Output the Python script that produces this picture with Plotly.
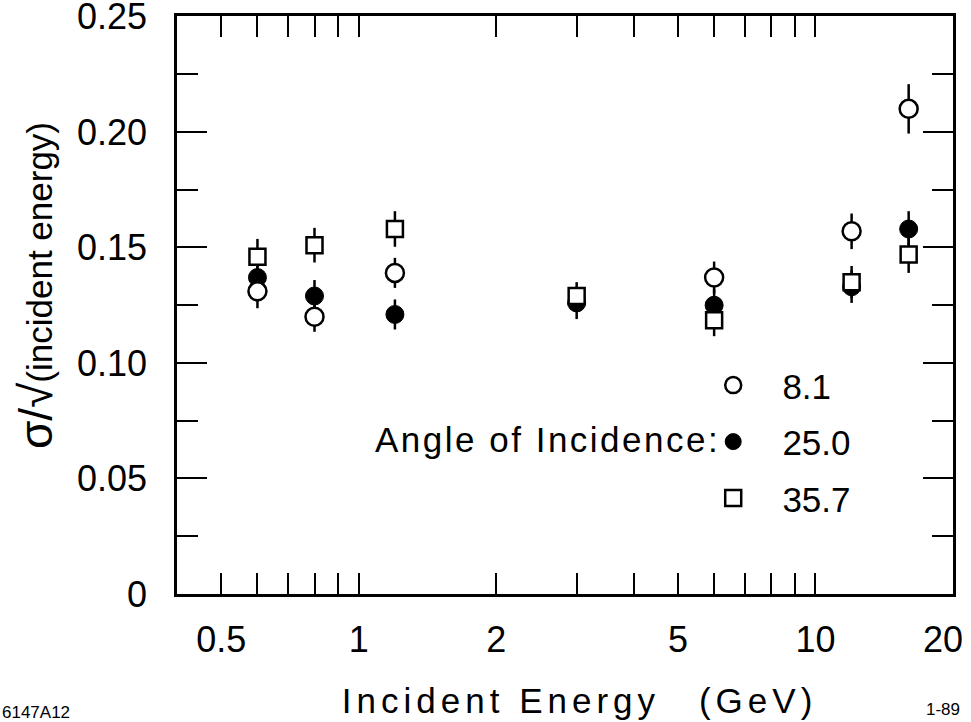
import plotly.graph_objects as go

# ---- data ----
energy_81 = [0.6, 0.8, 1.2, 6, 12, 16]
res_81 = [0.131, 0.120, 0.139, 0.137, 0.157, 0.210]
err_81 = [0.0073, 0.0065, 0.0065, 0.0069, 0.0077, 0.0107]

energy_250 = [0.6, 0.8, 1.2, 3, 6, 12, 16]
res_250 = [0.137, 0.129, 0.121, 0.126, 0.125, 0.133, 0.158]
err_250 = [0.0070, 0.0069, 0.0065, 0.0070, 0.0070, 0.0070, 0.0077]

energy_357 = [0.6, 0.8, 1.2, 3, 6, 12, 16]
res_357 = [0.146, 0.151, 0.158, 0.129, 0.1185, 0.135, 0.147]
err_357 = [0.0077, 0.0075, 0.0077, 0.0060, 0.0069, 0.0070, 0.0080]

angle_labels = ["8.1", "25.0", "35.7"]

x_label_vals = [0.5, 1, 2, 5, 10, 20]
x_label_text = ["0.5", "1", "2", "5", "10", "20&nbsp;&nbsp;"]
x_minor_vals = [0.6, 0.7, 0.8, 0.9, 3, 4, 6, 7, 8, 9]
x_long_vals = [1, 10]

y_major_vals = [0, 0.05, 0.10, 0.15, 0.20, 0.25]
y_major_text = ["0", "0.05", "0.10", "0.15", "0.20", "0.25"]
y_minor_vals = [0.025, 0.075, 0.125, 0.175, 0.225]

FONT = "Liberation Sans, Arial, Helvetica, sans-serif"
BLACK = "black"
X_RANGE = [-0.398, 1.3012]
Y_RANGE = [0, 0.2502]

fig = go.Figure()

def err(vals):
    return dict(type="data", array=vals, visible=True, color=BLACK, thickness=2.5, width=0)

def leg(label):
    return "&nbsp;&nbsp;&nbsp;" + label

# filled first, then squares, then open circles (drawing order of the reference)
fig.add_trace(go.Scatter(
    x=energy_250, y=res_250, mode="markers", name=leg(angle_labels[1]),
    legendgroup="b", legendrank=2,
    marker=dict(symbol="circle", size=18, color=BLACK, line=dict(color=BLACK, width=1)),
    error_y=err(err_250),
))
fig.add_trace(go.Scatter(
    x=energy_357, y=res_357, mode="markers", name=leg(angle_labels[2]),
    legendgroup="c", legendrank=3,
    marker=dict(symbol="square", size=16, color="white", line=dict(color=BLACK, width=2.5)),
    error_y=err(err_357),
))
fig.add_trace(go.Scatter(
    x=energy_81, y=res_81, mode="markers", name=leg(angle_labels[0]),
    legendgroup="a", legendrank=1,
    marker=dict(symbol="circle", size=18, color="white", line=dict(color=BLACK, width=2.5)),
    error_y=err(err_81),
))

fig.update_layout(
    width=971, height=722,
    margin=dict(l=177, r=18, t=16, b=128),
    paper_bgcolor="white", plot_bgcolor="white",
    font=dict(family=FONT, size=34, color=BLACK),
    showlegend=True,
    legend=dict(
        x=0.691, y=0.412, xanchor="left", yanchor="top",
        bgcolor="rgba(0,0,0,0)", borderwidth=0,
        font=dict(family=FONT, size=35, color=BLACK),
        tracegroupgap=8, itemwidth=30,
    ),
    xaxis=dict(
        type="log", range=X_RANGE, automargin=False,
        tickmode="array", tickvals=x_label_vals, ticktext=x_label_text,
        ticks="inside", ticklen=21, tickwidth=2, tickcolor=BLACK,
        minor=dict(tickmode="array", tickvals=x_minor_vals, ticks="inside",
                   ticklen=21, tickwidth=2, tickcolor=BLACK),
        showline=True, linewidth=2.5, linecolor=BLACK, mirror="ticks",
        showgrid=False, zeroline=False,
        ticklabelstandoff=12, ticklabeloverflow="allow",
        tickfont=dict(family=FONT, size=36, color=BLACK),
        title=dict(
            text='&nbsp;&nbsp;&nbsp;<span style="letter-spacing:5px">Incident Energy</span>'
                 '&nbsp;&nbsp;&nbsp;&nbsp;<span style="letter-spacing:5px">(GeV)</span>',
            font=dict(family=FONT, size=35, color=BLACK), standoff=30),
    ),
    xaxis2=dict(
        type="log", range=X_RANGE, overlaying="x", anchor="y", side="bottom",
        automargin=False,
        tickmode="array", tickvals=x_long_vals, showticklabels=False,
        ticks="inside", ticklen=30, tickwidth=2, tickcolor=BLACK,
        showline=False, mirror="ticks", showgrid=False, zeroline=False,
    ),
    yaxis=dict(
        range=Y_RANGE, automargin=False,
        tickmode="array", tickvals=y_major_vals, ticktext=y_major_text,
        ticks="inside", ticklen=30, tickwidth=2, tickcolor=BLACK,
        minor=dict(tickmode="array", tickvals=y_minor_vals, ticks="inside",
                   ticklen=21, tickwidth=2, tickcolor=BLACK),
        showline=True, linewidth=2.5, linecolor=BLACK, mirror="ticks",
        showgrid=False, zeroline=False,
        ticklabelstandoff=20, ticklabeloverflow="allow",
        tickfont=dict(family=FONT, size=36, color=BLACK),
        title=dict(
            text='&nbsp;&nbsp;&nbsp;&nbsp;'
                 '<span style="font-size:46px">σ/√</span>(incident energy)',
            font=dict(family=FONT, size=35, color=BLACK), standoff=14),
    ),
    annotations=[
        dict(text='<span style="letter-spacing:2.5px">Angle of Incidence:</span>',
             xref="paper", yref="paper",
             x=0.702, y=0.268, xanchor="right", yanchor="middle", showarrow=False,
             font=dict(family=FONT, size=35, color=BLACK)),
        dict(text="6147A12", xref="paper", yref="paper",
             x=-0.228, y=-0.205, xanchor="left", yanchor="middle", showarrow=False,
             font=dict(family=FONT, size=17, color=BLACK)),
        dict(text="1-89", xref="paper", yref="paper",
             x=1.012, y=-0.200, xanchor="right", yanchor="middle", showarrow=False,
             font=dict(family=FONT, size=17, color=BLACK)),
    ],
)

fig.write_html("out.html", config={"displayModeBar": False},
               post_script="document.body.style.margin='0';")
